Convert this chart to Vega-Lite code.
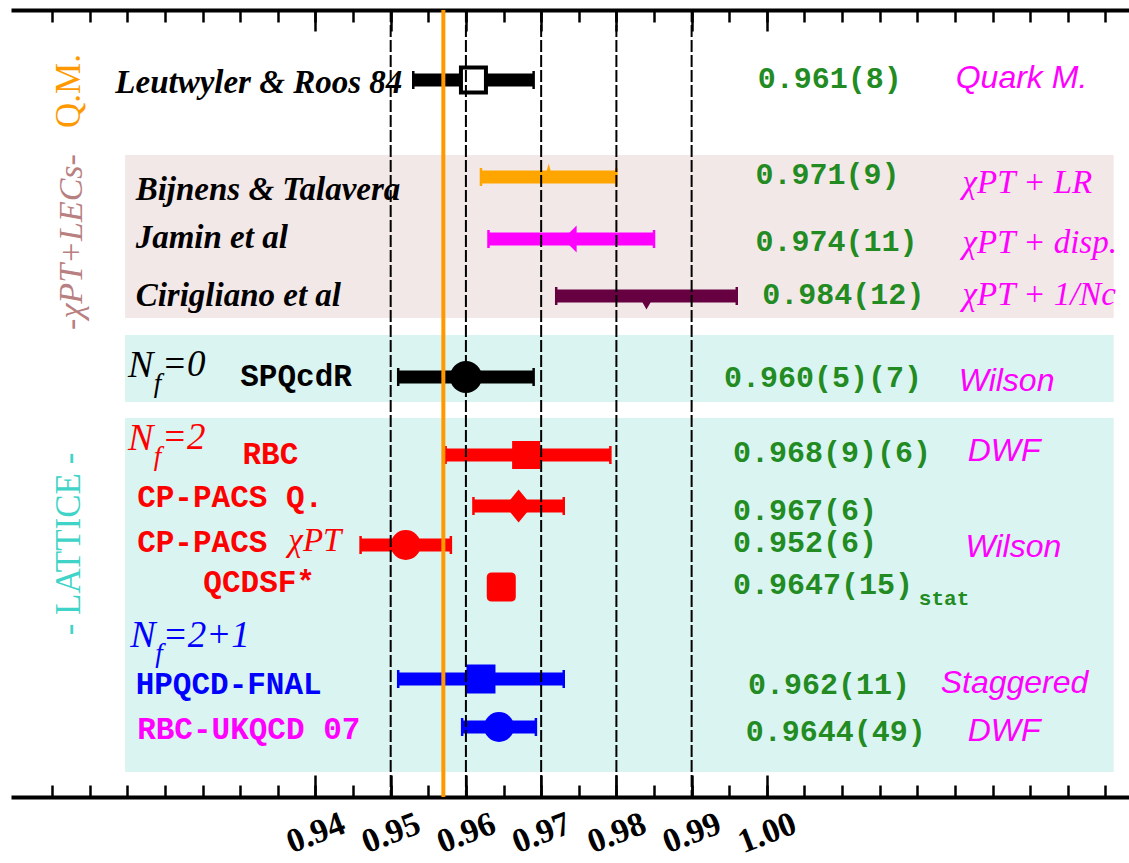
{
  "$schema": "https://vega.github.io/schema/vega-lite/v6.json",
  "width": 1115,
  "height": 787,
  "autosize": {"type": "none"},
  "padding": {"left": 13, "top": 10, "right": 1, "bottom": 66},
  "background": "#ffffff",
  "config": {"view": {"stroke": null}},
  "resolve": {"axis": {"x": "independent"}},
  "datasets": {
    "results": [
      {"name": "Leutwyler & Roos 84", "tone": "QM", "val": 0.961, "lo": 0.953, "hi": 0.969, "row": 1.423},
      {"name": "Bijnens & Talavera", "tone": "LR", "val": 0.971, "lo": 0.962, "hi": 0.98, "row": 3.395},
      {"name": "Jamin et al", "tone": "disp", "val": 0.974, "lo": 0.963, "hi": 0.985, "row": 4.656},
      {"name": "Cirigliano et al", "tone": "Nc", "val": 0.984, "lo": 0.972, "hi": 0.996, "row": 5.815},
      {"name": "SPQcdR", "tone": "Nf0", "val": 0.96, "lo": 0.951, "hi": 0.969, "row": 7.461},
      {"name": "RBC", "tone": "Nf2", "val": 0.968, "lo": 0.9573, "hi": 0.9792, "row": 9.047},
      {"name": "CP-PACS Q.", "tone": "Nf2", "val": 0.967, "lo": 0.961, "hi": 0.973, "row": 10.084},
      {"name": "CP-PACS χPT", "tone": "Nf2", "val": 0.952, "lo": 0.946, "hi": 0.958, "row": 10.877},
      {"name": "QCDSF*", "tone": "Nf2", "val": 0.9647, "lo": 0.9632, "hi": 0.9662, "row": 11.731},
      {"name": "HPQCD-FNAL", "tone": "Nf21", "val": 0.962, "lo": 0.951, "hi": 0.973, "row": 13.601},
      {"name": "RBC-UKQCD 07", "tone": "Nf21", "val": 0.9644, "lo": 0.9595, "hi": 0.9693, "row": 14.577}
    ],
    "bands": [
      {"tone": "bandChPT", "x": 0.9147, "x2": 1.0461, "row": 2.948, "row2": 6.262},
      {"tone": "bandLat", "x": 0.9147, "x2": 1.0461, "row": 6.607, "row2": 7.97},
      {"tone": "bandLat", "x": 0.9147, "x2": 1.0461, "row": 8.295, "row2": 15.492}
    ],
    "refs": [{"x": 0.95}, {"x": 0.96}, {"x": 0.97}, {"x": 0.98}, {"x": 0.99}],
    "orange": [{"x": 0.957}],
    "labels": [
      {"text": "Leutwyler & Roos 84", "role": "author", "tone": "QM", "x": 0.9134, "row": 1.687},
      {"text": "Bijnens & Talavera", "role": "author", "tone": "QM", "x": 0.9161, "row": 3.863},
      {"text": "Jamin et al", "role": "author", "tone": "QM", "x": 0.9161, "row": 4.839},
      {"text": "Cirigliano et al", "role": "author", "tone": "QM", "x": 0.9161, "row": 6.018},
      {"text": "N", "role": "nN", "tone": "Nf0", "x": 0.9151, "row": 7.461},
      {"text": "f", "role": "nf", "tone": "Nf0", "x": 0.9185, "row": 7.766},
      {"text": "=0", "role": "neq", "tone": "Nf0", "x": 0.9196, "row": 7.441},
      {"text": "N", "role": "nN", "tone": "Nf2", "x": 0.9151, "row": 8.945},
      {"text": "f", "role": "nf", "tone": "Nf2", "x": 0.9185, "row": 9.25},
      {"text": "=2", "role": "neq", "tone": "Nf2", "x": 0.9196, "row": 8.925},
      {"text": "N", "role": "nN", "tone": "Nf21", "x": 0.9154, "row": 12.95},
      {"text": "f", "role": "nf", "tone": "Nf21", "x": 0.9187, "row": 13.255},
      {"text": "=2+1", "role": "neq", "tone": "Nf21", "x": 0.9197, "row": 12.95},
      {"text": "SPQcdR", "role": "mono", "tone": "Nf0", "x": 0.93, "row": 7.644},
      {"text": "RBC", "role": "mono", "tone": "Nf2", "x": 0.9303, "row": 9.23},
      {"text": "CP-PACS Q.", "role": "mono", "tone": "Nf2", "x": 0.9163, "row": 10.104},
      {"text": "CP-PACS", "role": "mono", "tone": "Nf2", "x": 0.9163, "row": 11.019},
      {"text": "QCDSF*", "role": "mono", "tone": "Nf2", "x": 0.9251, "row": 11.832},
      {"text": "HPQCD-FNAL", "role": "mono", "tone": "Nf21", "x": 0.9161, "row": 13.906},
      {"text": "RBC-UKQCD 07", "role": "mono", "tone": "RBCUK", "x": 0.9163, "row": 14.821},
      {"text": "χPT", "role": "chi", "tone": "Nf2", "x": 0.9364, "row": 10.999},
      {"text": "0.961(8)", "role": "value", "tone": "value", "x": 0.9988, "row": 1.586},
      {"text": "0.971(9)", "role": "value", "tone": "value", "x": 0.9985, "row": 3.538},
      {"text": "0.974(11)", "role": "value", "tone": "value", "x": 0.9985, "row": 4.9},
      {"text": "0.984(12)", "role": "value", "tone": "value", "x": 0.9994, "row": 5.977},
      {"text": "0.960(5)(7)", "role": "value", "tone": "value", "x": 0.9943, "row": 7.665},
      {"text": "0.968(9)(6)", "role": "value", "tone": "value", "x": 0.9955, "row": 9.189},
      {"text": "0.967(6)", "role": "value", "tone": "value", "x": 0.9955, "row": 10.369},
      {"text": "0.952(6)", "role": "value", "tone": "value", "x": 0.9955, "row": 11.029},
      {"text": "0.9647(15)", "role": "value", "tone": "value", "x": 0.9955, "row": 11.873},
      {"text": "stat", "role": "stat", "tone": "value", "x": 1.0202, "row": 12.097},
      {"text": "0.962(11)", "role": "value", "tone": "value", "x": 0.9975, "row": 13.906},
      {"text": "0.9644(49)", "role": "value", "tone": "value", "x": 0.9972, "row": 14.862},
      {"text": "Quark M.", "role": "method", "tone": "method", "x": 1.0251, "row": 1.586},
      {"text": "Wilson", "role": "method", "tone": "method", "x": 1.0255, "row": 7.746},
      {"text": "DWF", "role": "method", "tone": "method", "x": 1.0267, "row": 9.169},
      {"text": "Wilson", "role": "method", "tone": "method", "x": 1.0264, "row": 11.121},
      {"text": "Staggered", "role": "method", "tone": "method", "x": 1.0231, "row": 13.886},
      {"text": "DWF", "role": "method", "tone": "method", "x": 1.0267, "row": 14.862},
      {"text": "χPT + LR", "role": "methodSerif", "tone": "method", "x": 1.026, "row": 3.721},
      {"text": "χPT + disp.", "role": "methodSerif", "tone": "method", "x": 1.026, "row": 4.94},
      {"text": "χPT + 1/Nc", "role": "methodSerif", "tone": "method", "x": 1.026, "row": 5.998},
      {"text": "Q.M.", "role": "head", "tone": "headQM", "x": 0.9073, "row": 1.647},
      {"text": "-χPT+LECs-", "role": "headIt", "tone": "headChPT", "x": 0.9076, "row": 4.717},
      {"text": "- LATTICE -", "role": "head", "tone": "headLat", "x": 0.9072, "row": 10.856}
    ]
  },
  "layer": [
    {
      "data": {"name": "bands"},
      "mark": {"type": "rect"},
      "encoding": {
        "x": {"field": "x", "type": "quantitative", "scale": {"domain": [0.8998, 1.048], "nice": false, "zero": false},
          "axis": {"orient": "bottom", "values": [0.94, 0.95, 0.96, 0.97, 0.98, 0.99, 1.0], "format": ".2f", "labelAngle": -21, "labelAlign": "center", "labelBaseline": "middle", "labelPadding": 36, "labelFont": "Liberation Serif", "labelFontWeight": "bold", "labelFontSize": 34, "labelColor": "#000000", "labelOverlap": false, "labelFlush": false, "labelBound": false, "ticks": false, "tickSize": 0, "domain": true, "domainColor": "#000000", "domainWidth": 4, "domainCap": "square", "grid": false, "title": null}},
        "x2": {"field": "x2"},
        "y": {"field": "row", "type": "quantitative", "scale": {"domain": [0, 16], "reverse": true, "nice": false, "zero": false},
          "axis": {"orient": "left", "domain": true, "domainColor": "#000000", "domainWidth": 4, "domainCap": "square", "ticks": false, "labels": false, "grid": false, "title": null}},
        "y2": {"field": "row2"},
        "color": {"field": "tone", "type": "nominal", "legend": null,
          "scale": {"domain": ["QM", "LR", "disp", "Nc", "Nf0", "Nf2", "Nf21", "RBCUK", "value", "method", "headQM", "headChPT", "headLat", "bandChPT", "bandLat"],
            "range": ["#000000", "#ffa500", "#ff00ff", "#660040", "#000000", "#ff0000", "#0000ff", "#ff00ff", "#228b22", "#ff00ff", "#ff9900", "#b88080", "#40d4c8", "#f3e8e8", "#d9f4f1"]}}
      }
    },
    {
      "data": {"name": "results"},
      "mark": {"type": "rule", "strokeWidth": 13},
      "encoding": {
        "x": {"field": "lo", "type": "quantitative", "scale": {"domain": [0.8998, 1.048], "nice": false, "zero": false},
          "axis": {"orient": "top", "values": [0.94, 0.95, 0.96, 0.97, 0.98, 0.99, 1.0], "labels": false, "ticks": true, "tickSize": -21, "tickWidth": 2.5, "tickColor": "#000000", "domain": false, "grid": false, "title": null}},
        "x2": {"field": "hi"},
        "y": {"field": "row", "type": "quantitative", "scale": {"domain": [0, 16], "reverse": true, "nice": false, "zero": false}, "axis": null},
        "color": {"field": "tone", "type": "nominal", "legend": null}
      }
    },
    {
      "data": {"name": "results"},
      "mark": {"type": "tick", "orient": "vertical", "size": 18, "thickness": 2.5, "opacity": 1},
      "encoding": {
        "x": {"field": "lo", "type": "quantitative", "scale": {"domain": [0.8998, 1.048], "nice": false, "zero": false},
          "axis": {"orient": "top", "values": [0.905, 0.91, 0.915, 0.92, 0.925, 0.93, 0.935, 0.94, 0.945, 0.95, 0.955, 0.96, 0.965, 0.97, 0.975, 0.98, 0.985, 0.99, 0.995, 1.0, 1.005, 1.01, 1.015, 1.02, 1.025, 1.03, 1.035, 1.04, 1.045], "labels": false, "ticks": true, "tickSize": -12, "tickWidth": 2.5, "tickColor": "#000000", "domain": false, "grid": false, "title": null}},
        "y": {"field": "row", "type": "quantitative", "scale": {"domain": [0, 16], "reverse": true, "nice": false, "zero": false}, "axis": null},
        "color": {"field": "tone", "type": "nominal", "legend": null}
      }
    },
    {
      "data": {"name": "results"},
      "mark": {"type": "tick", "orient": "vertical", "size": 18, "thickness": 2.5, "opacity": 1},
      "encoding": {
        "x": {"field": "hi", "type": "quantitative", "scale": {"domain": [0.8998, 1.048], "nice": false, "zero": false},
          "axis": {"orient": "top", "labels": false, "ticks": false, "domain": true, "domainColor": "#000000", "domainWidth": 4, "domainCap": "square", "grid": false, "title": null}},
        "y": {"field": "row", "type": "quantitative", "scale": {"domain": [0, 16], "reverse": true, "nice": false, "zero": false}, "axis": null},
        "color": {"field": "tone", "type": "nominal", "legend": null}
      }
    },
    {
      "data": {"name": "results"},
      "transform": [{"filter": "datum.name !== 'Leutwyler & Roos 84'"}],
      "mark": {"type": "point", "filled": true, "opacity": 1, "strokeWidth": 0},
      "encoding": {
        "x": {"field": "val", "type": "quantitative", "scale": {"domain": [0.8998, 1.048], "nice": false, "zero": false}, "axis": null},
        "y": {"field": "row", "type": "quantitative", "scale": {"domain": [0, 16], "reverse": true, "nice": false, "zero": false}, "axis": null},
        "color": {"field": "tone", "type": "nominal", "legend": null},
        "shape": {"field": "name", "type": "nominal", "legend": null,
          "scale": {"domain": ["Bijnens & Talavera", "Jamin et al", "Cirigliano et al", "SPQcdR", "RBC", "CP-PACS Q.", "CP-PACS χPT", "QCDSF*", "HPQCD-FNAL", "RBC-UKQCD 07"],
            "range": ["M0,-1L0.35,0.3L-0.35,0.3Z", "M-0.6,0L0.4,-1L0.4,1Z", "M-0.4,0.3L0.4,0.3L0,1Z", "circle", "square", "M0,-1L0.82,0L0,1L-0.82,0Z", "circle", "M-0.65,-1L0.65,-1Q1,-1 1,-0.65L1,0.65Q1,1 0.65,1L-0.65,1Q-1,1 -1,0.65L-1,-0.65Q-1,-1 -0.65,-1Z", "square", "circle"]}},
        "size": {"field": "name", "type": "ordinal", "legend": null,
          "scale": {"type": "ordinal", "domain": ["Bijnens & Talavera", "Jamin et al", "Cirigliano et al", "SPQcdR", "RBC", "CP-PACS Q.", "CP-PACS χPT", "QCDSF*", "HPQCD-FNAL", "RBC-UKQCD 07"],
            "range": [729, 729, 729, 1024, 784, 1089, 900, 841, 841, 900]}}
      }
    },
    {
      "data": {"name": "results"},
      "transform": [{"filter": "datum.name === 'Leutwyler & Roos 84'"}],
      "mark": {"type": "point", "shape": "square", "size": 625, "filled": true, "fill": "#ffffff", "stroke": "#000000", "strokeWidth": 4, "opacity": 1},
      "encoding": {
        "x": {"field": "val", "type": "quantitative", "scale": {"domain": [0.8998, 1.048], "nice": false, "zero": false}, "axis": null},
        "y": {"field": "row", "type": "quantitative", "scale": {"domain": [0, 16], "reverse": true, "nice": false, "zero": false}, "axis": null}
      }
    },
    {
      "data": {"name": "refs"},
      "mark": {"type": "rule", "color": "#000000", "strokeWidth": 2, "strokeDash": [12, 3]},
      "encoding": {
        "x": {"field": "x", "type": "quantitative", "scale": {"domain": [0.8998, 1.048], "nice": false, "zero": false},
          "axis": {"orient": "bottom", "values": [0.905, 0.91, 0.915, 0.92, 0.925, 0.93, 0.935, 0.94, 0.945, 0.95, 0.955, 0.96, 0.965, 0.97, 0.975, 0.98, 0.985, 0.99, 0.995, 1.0, 1.005, 1.01, 1.015, 1.02, 1.025, 1.03, 1.035, 1.04, 1.045], "labels": false, "ticks": true, "tickSize": -12, "tickWidth": 2.5, "tickColor": "#000000", "domain": false, "grid": false, "title": null}}
      }
    },
    {
      "data": {"name": "orange"},
      "mark": {"type": "rule", "color": "#ff9900", "strokeWidth": 4},
      "encoding": {
        "x": {"field": "x", "type": "quantitative", "scale": {"domain": [0.8998, 1.048], "nice": false, "zero": false},
          "axis": {"orient": "bottom", "values": [0.94, 0.95, 0.96, 0.97, 0.98, 0.99, 1.0], "labels": false, "ticks": true, "tickSize": -22, "tickWidth": 2.5, "tickColor": "#000000", "domain": false, "grid": false, "title": null}}
      }
    },
    {
      "data": {"name": "labels"},
      "transform": [{"filter": "datum.role === 'author'"}],
      "mark": {"type": "text", "align": "left", "baseline": "alphabetic", "font": "Liberation Serif", "fontStyle": "italic", "fontWeight": "bold", "fontSize": 33},
      "encoding": {
        "x": {"field": "x", "type": "quantitative", "scale": {"domain": [0.8998, 1.048], "nice": false, "zero": false}, "axis": null},
        "y": {"field": "row", "type": "quantitative", "scale": {"domain": [0, 16], "reverse": true, "nice": false, "zero": false}, "axis": null},
        "text": {"field": "text"},
        "color": {"field": "tone", "type": "nominal", "legend": null}
      }
    },
    {
      "data": {"name": "labels"},
      "transform": [{"filter": "datum.role === 'nN'"}],
      "mark": {"type": "text", "align": "left", "baseline": "alphabetic", "font": "Liberation Serif", "fontStyle": "italic", "fontSize": 38},
      "encoding": {
        "x": {"field": "x", "type": "quantitative", "scale": {"domain": [0.8998, 1.048], "nice": false, "zero": false}, "axis": null},
        "y": {"field": "row", "type": "quantitative", "scale": {"domain": [0, 16], "reverse": true, "nice": false, "zero": false}, "axis": null},
        "text": {"field": "text"},
        "color": {"field": "tone", "type": "nominal", "legend": null}
      }
    },
    {
      "data": {"name": "labels"},
      "transform": [{"filter": "datum.role === 'nf'"}],
      "mark": {"type": "text", "align": "left", "baseline": "alphabetic", "font": "Liberation Serif", "fontStyle": "italic", "fontSize": 27},
      "encoding": {
        "x": {"field": "x", "type": "quantitative", "scale": {"domain": [0.8998, 1.048], "nice": false, "zero": false}, "axis": null},
        "y": {"field": "row", "type": "quantitative", "scale": {"domain": [0, 16], "reverse": true, "nice": false, "zero": false}, "axis": null},
        "text": {"field": "text"},
        "color": {"field": "tone", "type": "nominal", "legend": null}
      }
    },
    {
      "data": {"name": "labels"},
      "transform": [{"filter": "datum.role === 'neq'"}],
      "mark": {"type": "text", "align": "left", "baseline": "alphabetic", "font": "Liberation Serif", "fontStyle": "italic", "fontSize": 37},
      "encoding": {
        "x": {"field": "x", "type": "quantitative", "scale": {"domain": [0.8998, 1.048], "nice": false, "zero": false}, "axis": null},
        "y": {"field": "row", "type": "quantitative", "scale": {"domain": [0, 16], "reverse": true, "nice": false, "zero": false}, "axis": null},
        "text": {"field": "text"},
        "color": {"field": "tone", "type": "nominal", "legend": null}
      }
    },
    {
      "data": {"name": "labels"},
      "transform": [{"filter": "datum.role === 'mono'"}],
      "mark": {"type": "text", "align": "left", "baseline": "alphabetic", "font": "Liberation Mono", "fontWeight": "bold", "fontSize": 31},
      "encoding": {
        "x": {"field": "x", "type": "quantitative", "scale": {"domain": [0.8998, 1.048], "nice": false, "zero": false}, "axis": null},
        "y": {"field": "row", "type": "quantitative", "scale": {"domain": [0, 16], "reverse": true, "nice": false, "zero": false}, "axis": null},
        "text": {"field": "text"},
        "color": {"field": "tone", "type": "nominal", "legend": null}
      }
    },
    {
      "data": {"name": "labels"},
      "transform": [{"filter": "datum.role === 'chi'"}],
      "mark": {"type": "text", "align": "left", "baseline": "alphabetic", "font": "Liberation Serif", "fontStyle": "italic", "fontSize": 33},
      "encoding": {
        "x": {"field": "x", "type": "quantitative", "scale": {"domain": [0.8998, 1.048], "nice": false, "zero": false}, "axis": null},
        "y": {"field": "row", "type": "quantitative", "scale": {"domain": [0, 16], "reverse": true, "nice": false, "zero": false}, "axis": null},
        "text": {"field": "text"},
        "color": {"field": "tone", "type": "nominal", "legend": null}
      }
    },
    {
      "data": {"name": "labels"},
      "transform": [{"filter": "datum.role === 'value'"}],
      "mark": {"type": "text", "align": "left", "baseline": "alphabetic", "font": "Liberation Mono", "fontWeight": "bold", "fontSize": 30},
      "encoding": {
        "x": {"field": "x", "type": "quantitative", "scale": {"domain": [0.8998, 1.048], "nice": false, "zero": false}, "axis": null},
        "y": {"field": "row", "type": "quantitative", "scale": {"domain": [0, 16], "reverse": true, "nice": false, "zero": false}, "axis": null},
        "text": {"field": "text"},
        "color": {"field": "tone", "type": "nominal", "legend": null}
      }
    },
    {
      "data": {"name": "labels"},
      "transform": [{"filter": "datum.role === 'stat'"}],
      "mark": {"type": "text", "align": "left", "baseline": "alphabetic", "font": "Liberation Mono", "fontWeight": "bold", "fontSize": 21},
      "encoding": {
        "x": {"field": "x", "type": "quantitative", "scale": {"domain": [0.8998, 1.048], "nice": false, "zero": false}, "axis": null},
        "y": {"field": "row", "type": "quantitative", "scale": {"domain": [0, 16], "reverse": true, "nice": false, "zero": false}, "axis": null},
        "text": {"field": "text"},
        "color": {"field": "tone", "type": "nominal", "legend": null}
      }
    },
    {
      "data": {"name": "labels"},
      "transform": [{"filter": "datum.role === 'method'"}],
      "mark": {"type": "text", "align": "left", "baseline": "alphabetic", "font": "Liberation Sans", "fontStyle": "italic", "fontSize": 32},
      "encoding": {
        "x": {"field": "x", "type": "quantitative", "scale": {"domain": [0.8998, 1.048], "nice": false, "zero": false}, "axis": null},
        "y": {"field": "row", "type": "quantitative", "scale": {"domain": [0, 16], "reverse": true, "nice": false, "zero": false}, "axis": null},
        "text": {"field": "text"},
        "color": {"field": "tone", "type": "nominal", "legend": null}
      }
    },
    {
      "data": {"name": "labels"},
      "transform": [{"filter": "datum.role === 'methodSerif'"}],
      "mark": {"type": "text", "align": "left", "baseline": "alphabetic", "font": "Liberation Serif", "fontStyle": "italic", "fontSize": 33},
      "encoding": {
        "x": {"field": "x", "type": "quantitative", "scale": {"domain": [0.8998, 1.048], "nice": false, "zero": false}, "axis": null},
        "y": {"field": "row", "type": "quantitative", "scale": {"domain": [0, 16], "reverse": true, "nice": false, "zero": false}, "axis": null},
        "text": {"field": "text"},
        "color": {"field": "tone", "type": "nominal", "legend": null}
      }
    },
    {
      "data": {"name": "labels"},
      "transform": [{"filter": "datum.role === 'head'"}],
      "mark": {"type": "text", "align": "center", "baseline": "middle", "angle": 270, "font": "Liberation Serif", "fontSize": 35},
      "encoding": {
        "x": {"field": "x", "type": "quantitative", "scale": {"domain": [0.8998, 1.048], "nice": false, "zero": false}, "axis": null},
        "y": {"field": "row", "type": "quantitative", "scale": {"domain": [0, 16], "reverse": true, "nice": false, "zero": false}, "axis": null},
        "text": {"field": "text"},
        "color": {"field": "tone", "type": "nominal", "legend": null}
      }
    },
    {
      "data": {"name": "labels"},
      "transform": [{"filter": "datum.role === 'headIt'"}],
      "mark": {"type": "text", "align": "center", "baseline": "middle", "angle": 270, "font": "Liberation Serif", "fontStyle": "italic", "fontSize": 34},
      "encoding": {
        "x": {"field": "x", "type": "quantitative", "scale": {"domain": [0.8998, 1.048], "nice": false, "zero": false}, "axis": null},
        "y": {"field": "row", "type": "quantitative", "scale": {"domain": [0, 16], "reverse": true, "nice": false, "zero": false}, "axis": null},
        "text": {"field": "text"},
        "color": {"field": "tone", "type": "nominal", "legend": null}
      }
    }
  ]
}
